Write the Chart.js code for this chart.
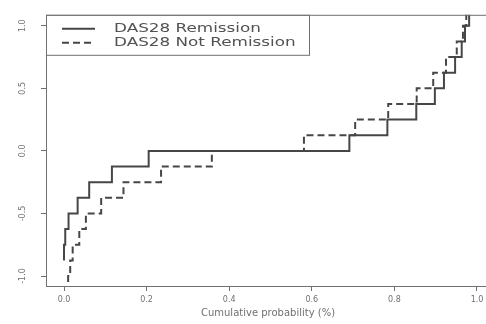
<!DOCTYPE html>
<html>
<head>
<meta charset="utf-8">
<title>DAS28 cumulative probability</title>
<script src="https://cdn.jsdelivr.net/npm/chart.js@4/dist/chart.umd.min.js"></script>
<style>
  html, body { margin: 0; padding: 0; background: #fff; overflow: hidden; }
  #wrap { width: 492px; height: 324px; }
</style>
</head>
<body>
<div id="wrap"><canvas id="cdf" width="492" height="324"></canvas></div>
<script>
(function() {
    'use strict';

    // ── Data ─────────────────────────────────────────────────────────────
    var seriesNames = ['DAS28 Remission', 'DAS28 Not Remission'];

    // x = cumulative probability where the curve steps up to level y
    var remX = [0.000, 0.000, 0.003, 0.011, 0.033, 0.061, 0.116, 0.205,
                0.691, 0.783, 0.853, 0.898, 0.920, 0.947, 0.963, 0.971, 0.981];
    var remY = [-0.875, -0.75, -0.625, -0.5, -0.375, -0.25, -0.125, 0.0,
                0.125, 0.25, 0.375, 0.5, 0.625, 0.75, 0.875, 1.0, 1.125];

    var notX = [0.007, 0.010, 0.015, 0.021, 0.037, 0.053, 0.090, 0.144, 0.235, 0.358,
                0.581, 0.705, 0.785, 0.854, 0.894, 0.925, 0.951, 0.966, 0.974];
    var notY = [-1.125, -1.0, -0.875, -0.75, -0.625, -0.5, -0.375, -0.25, -0.125, 0.0,
                0.125, 0.25, 0.375, 0.5, 0.625, 0.75, 0.875, 1.0, 1.125];

    var xTicks = [0.0, 0.2, 0.4, 0.6, 0.8, 1.0];
    var yTicks = [-1.0, -0.5, 0.0, 0.5, 1.0];
    var xTitle = 'Cumulative probability (%)';

    function pairs(xs, ys) {
        return xs.map(function(x, i) { return { x: x, y: ys[i] }; });
    }

    var ink = '#464646', axisInk = '#707070', textInk = '#707070', legendInk = '#525252';
    var face = '"DejaVu Sans", "Liberation Sans", sans-serif';

    // ── Box round the plot + legend in the top-left corner ──────────────
    var framePlugin = {
        id: 'frame',
        afterDraw: function(chart) {
            var a = chart.chartArea, ctx = chart.ctx;
            ctx.save();
            ctx.strokeStyle = axisInk;
            ctx.lineWidth = 1;
            ctx.strokeRect(a.left + 0.5, a.top + 0.5, a.right - a.left, a.bottom - a.top);

            var lx = a.left, ly = a.top;
            ctx.fillStyle = '#fff';
            ctx.fillRect(lx + 1, ly + 1, 262, 39);
            ctx.strokeRect(lx + 0.5, ly + 0.5, 263, 40);

            chart.data.datasets.forEach(function(ds, i) {
                var y = ly + 14 + i * 14;
                ctx.beginPath();
                ctx.setLineDash(ds.borderDash || []);
                ctx.strokeStyle = ds.borderColor;
                ctx.lineWidth = ds.borderWidth;
                ctx.moveTo(lx + 16, y);
                ctx.lineTo(lx + 49, y);
                ctx.stroke();
                ctx.setLineDash([]);

                ctx.save();
                ctx.translate(lx + 68, y);
                ctx.scale(1.4, 1);
                ctx.fillStyle = legendInk;
                ctx.font = '12px ' + face;
                ctx.textBaseline = 'middle';
                ctx.fillText(ds.label, 0, 0);
                ctx.restore();
            });
            ctx.restore();
        }
    };

    new Chart(document.getElementById('cdf'), {
        type: 'line',
        data: {
            datasets: [
                {
                    label: seriesNames[0],
                    data: pairs(remX, remY),
                    stepped: 'before',
                    borderColor: ink,
                    borderWidth: 2,
                    pointRadius: 0,
                    fill: false,
                    clip: 0
                },
                {
                    label: seriesNames[1],
                    data: pairs(notX, notY),
                    stepped: 'before',
                    borderColor: ink,
                    borderWidth: 2,
                    borderDash: [7, 4],
                    pointRadius: 0,
                    fill: false,
                    clip: 0
                }
            ]
        },
        options: {
            responsive: false,
            animation: false,
            devicePixelRatio: 1,
            layout: { padding: { top: 14, right: 2, left: 0, bottom: 0 } },
            plugins: { legend: { display: false }, tooltip: { enabled: false } },
            scales: {
                x: {
                    type: 'linear',
                    min: -0.0436,
                    max: 1.0315,
                    afterBuildTicks: function(s) { s.ticks = xTicks.map(function(v) { return { value: v }; }); },
                    afterFit: function(s) { s.height = 38; },
                    grid: { drawOnChartArea: false, drawTicks: true, tickLength: 5, color: axisInk },
                    border: { display: false },
                    ticks: {
                        padding: 4,
                        color: textInk,
                        font: { family: face, size: 8 },
                        maxRotation: 0,
                        autoSkip: false,
                        callback: function(v) { return v.toFixed(1); }
                    },
                    title: {
                        display: true,
                        text: xTitle,
                        color: textInk,
                        font: { family: face, size: 10 },
                        padding: { top: 0, bottom: 5 }
                    }
                },
                y: {
                    type: 'linear',
                    min: -1.0797,
                    max: 1.0876,
                    afterBuildTicks: function(s) { s.ticks = yTicks.map(function(v) { return { value: v }; }); },
                    afterFit: function(s) { s.width = 46; },
                    grid: { drawOnChartArea: false, drawTicks: true, tickLength: 5, color: axisInk },
                    border: { display: false },
                    ticks: {
                        padding: 10,
                        color: textInk,
                        font: { family: face, size: 8 },
                        minRotation: 90,
                        maxRotation: 90,
                        crossAlign: 'center',
                        autoSkip: false,
                        callback: function(v) { return v.toFixed(1); }
                    }
                }
            }
        },
        plugins: [framePlugin]
    });
})();
</script>
</body>
</html>
